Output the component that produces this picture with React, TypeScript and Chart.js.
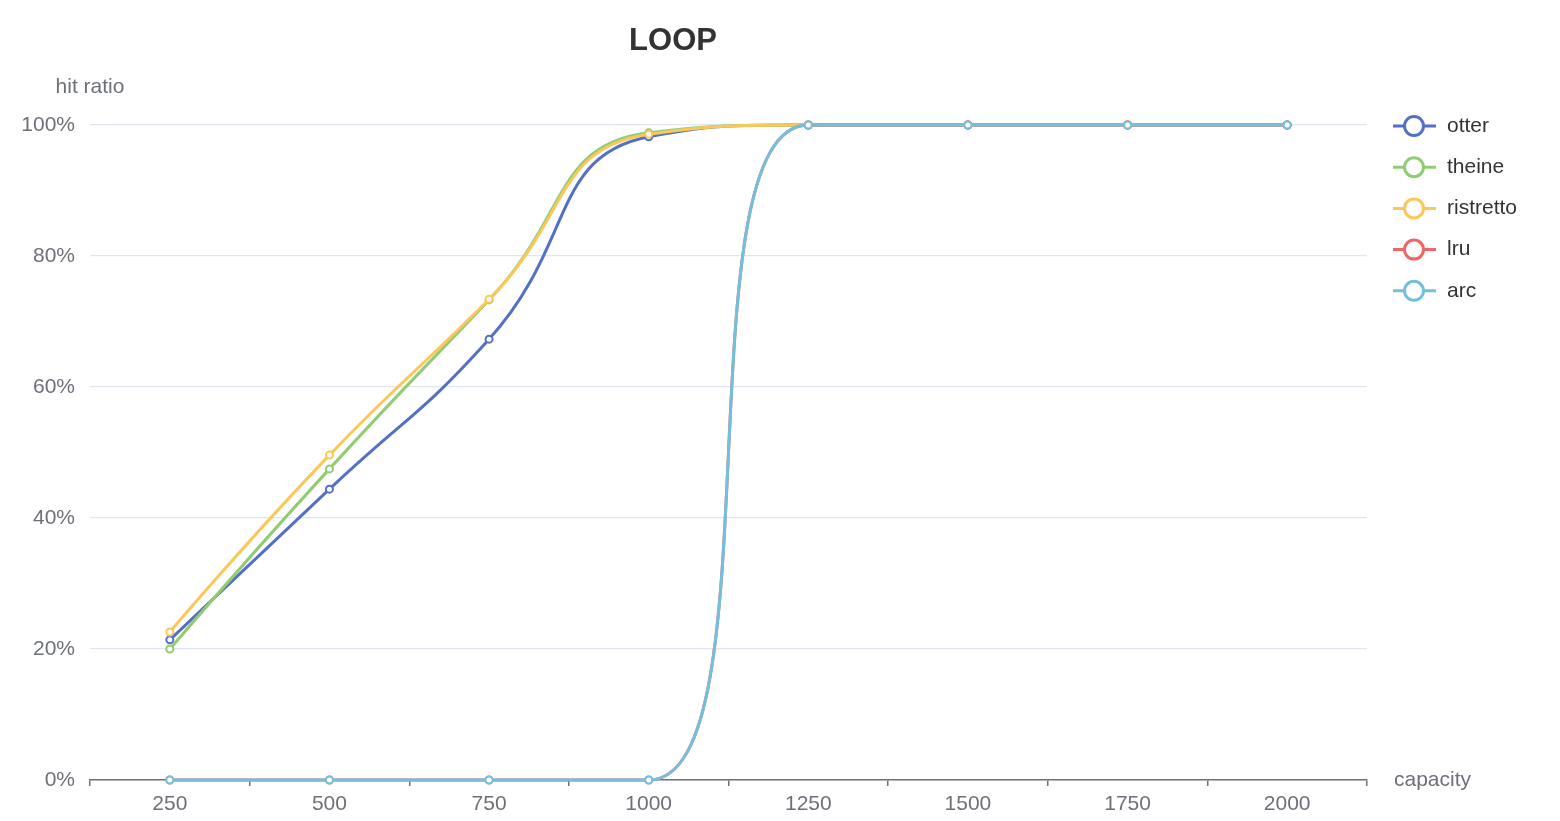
import React, { useEffect, useRef } from "react";
import { Chart, registerables } from "chart.js";

Chart.register(...registerables);

const categories = ["250", "500", "750", "1000", "1250", "1500", "1750", "2000"];
const seriesNames = ["otter", "theine", "ristretto", "lru", "arc"];
const otter = [21.4, 44.4, 67.3, 98.2, 100, 100, 100, 100];
const theine = [20.0, 47.5, 73.3, 98.8, 100, 100, 100, 100];
const ristretto = [22.6, 49.6, 73.4, 98.6, 100, 100, 100, 100];
const lru = [0, 0, 0, 0, 100, 100, 100, 100];
const arc = [0, 0, 0, 0, 100, 100, 100, 100];
const colors = ["#5470c6", "#91cc75", "#fac858", "#ee6666", "#73c0de"];
const yTicks = [0, 20, 40, 60, 80, 100];

const FONT = "'Liberation Sans', Arial, Helvetica, sans-serif";

const clamp = (v: number, a: number, b: number) => Math.max(Math.min(a, b), Math.min(v, Math.max(a, b)));

// ECharts-style smoothing of control points (smooth = 0.5, clamped to segment boxes)
function smoothPoints(pts: any[], smooth: number) {
  const n = pts.length;
  for (let i = 0; i < n; i++) {
    pts[i].cp1x = pts[i].x;
    pts[i].cp1y = pts[i].y;
    pts[i].cp2x = pts[i].x;
    pts[i].cp2y = pts[i].y;
  }
  for (let i = 1; i < n - 1; i++) {
    const p = pts[i - 1];
    const c = pts[i];
    const nx = pts[i + 1];
    let vx = nx.x - p.x;
    let vy = nx.y - p.y;
    const lenPrev = Math.hypot(c.x - p.x, c.y - p.y);
    const lenNext = Math.hypot(nx.x - c.x, nx.y - c.y);
    if (lenPrev === 0 || lenNext === 0) continue;
    const r = lenNext / (lenNext + lenPrev);
    let ncx = c.x + vx * smooth * r;
    let ncy = c.y + vy * smooth * r;
    ncx = clamp(ncx, nx.x, c.x);
    ncy = clamp(ncy, nx.y, c.y);
    vx = ncx - c.x;
    vy = ncy - c.y;
    let pcx = c.x - (vx * lenPrev) / lenNext;
    let pcy = c.y - (vy * lenPrev) / lenNext;
    pcx = clamp(pcx, p.x, c.x);
    pcy = clamp(pcy, p.y, c.y);
    vx = c.x - pcx;
    vy = c.y - pcy;
    ncx = c.x + (vx * lenNext) / lenPrev;
    ncy = c.y + (vy * lenNext) / lenPrev;
    c.cp1x = pcx;
    c.cp1y = pcy;
    c.cp2x = ncx;
    c.cp2y = ncy;
  }
}

const smoother = {
  id: "smoother",
  beforeDatasetDraw(chart: any, args: any) {
    const meta = args.meta;
    const line = meta.dataset;
    if (!line) return;
    if (typeof line.updateControlPoints === "function") {
      line.updateControlPoints(chart.chartArea, meta.indexAxis || "x");
    }
    smoothPoints(meta.data, 0.5);
    line._pointsUpdated = true;
    line._path = undefined;
  },
};

const overlay = {
  id: "overlay",
  afterDraw(chart: any) {
    const ctx = chart.ctx;
    const area = chart.chartArea;
    ctx.save();
    // title
    ctx.fillStyle = "#333333";
    ctx.font = `bold 31px ${FONT}`;
    ctx.textAlign = "center";
    ctx.textBaseline = "middle";
    ctx.fillText("LOOP", 673, 41);
    // axis names
    ctx.fillStyle = "#6e7079";
    ctx.font = `21px ${FONT}`;
    ctx.fillText("hit ratio", area.left, 87);
    ctx.textAlign = "left";
    ctx.fillText("capacity", area.right + 27, area.bottom);
    // legend
    const dsets = chart.data.datasets;
    for (let i = 0; i < dsets.length; i++) {
      const y = 126 + i * 41.2;
      const x0 = 1393;
      const c = dsets[i].borderColor;
      ctx.strokeStyle = c;
      ctx.lineWidth = 3;
      ctx.beginPath();
      ctx.moveTo(x0, y);
      ctx.lineTo(x0 + 43, y);
      ctx.stroke();
      ctx.fillStyle = "#ffffff";
      ctx.beginPath();
      ctx.arc(x0 + 21, y, 9.5, 0, Math.PI * 2);
      ctx.fill();
      ctx.stroke();
      ctx.fillStyle = "#333333";
      ctx.font = `21px ${FONT}`;
      ctx.textAlign = "left";
      ctx.textBaseline = "middle";
      ctx.fillText(dsets[i].label, 1447, y);
    }
    ctx.restore();
  },
};

export default function App() {
  const ref = useRef<HTMLCanvasElement | null>(null);
  useEffect(() => {
    document.body.style.margin = "0";
    const values = [otter, theine, ristretto, lru, arc];
    const chart = new Chart(ref.current as HTMLCanvasElement, {
      type: "line",
      data: {
        labels: categories,
        datasets: seriesNames.map((name, i) => ({
          label: name,
          data: values[i],
          borderColor: colors[i],
          backgroundColor: "#ffffff",
          pointBackgroundColor: "#ffffff",
          pointBorderColor: colors[i],
          pointBorderWidth: 2,
          pointRadius: 3.5,
          borderWidth: 3,
          tension: 0.4,
          fill: false,
          order: seriesNames.length - i,
          clip: false as any,
        })),
      },
      options: {
        responsive: false,
        animation: false,
        layout: { padding: { left: 0, top: 125, right: 193, bottom: 0 } },
        plugins: {
          legend: { display: false },
          title: { display: false },
          tooltip: { enabled: false },
        },
        scales: {
          x: {
            type: "category",
            offset: true,
            grid: {
              display: true,
              drawOnChartArea: false,
              offset: true,
              tickLength: 6,
              color: "#6e7079",
              lineWidth: 1.5,
            },
            border: { display: true, color: "#6e7079", width: 1.5 },
            ticks: {
              color: "#6e7079",
              font: { size: 21, family: FONT },
              padding: 6,
              maxRotation: 0,
              autoSkip: false,
            },
            afterFit(scale: any) {
              scale.height = 41;
            },
          },
          y: {
            min: 0,
            max: 100,
            afterBuildTicks(scale: any) {
              scale.ticks = yTicks.map((v) => ({ value: v }));
            },
            grid: {
              color: "#e0e6f1",
              lineWidth: 1.2,
              drawTicks: false,
            },
            border: { display: false },
            ticks: {
              color: "#6e7079",
              font: { size: 21, family: FONT },
              padding: 15,
              callback: (v: any) => `${v}%`,
            },
            afterFit(scale: any) {
              scale.width = 90;
            },
          },
        },
      },
      plugins: [smoother, overlay],
    });
    return () => chart.destroy();
  }, []);
  return <canvas ref={ref} width={1560} height={821} style={{ display: "block" }} />;
}
